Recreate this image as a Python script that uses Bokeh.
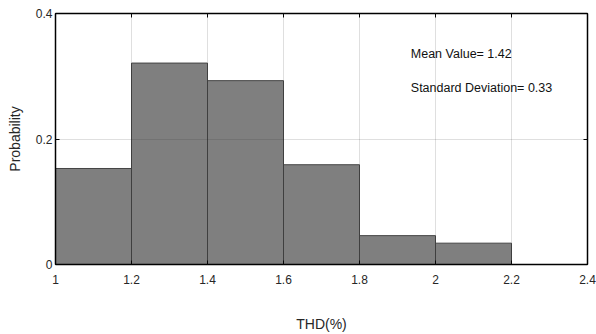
from bokeh.plotting import figure
from bokeh.models import LinearAxis, Range1d, FixedTicker, Label
from bokeh.embed import file_html
from bokeh.resources import INLINE

bin_left = [1.0, 1.2, 1.4, 1.6, 1.8, 2.0, 2.2]
bin_right = [1.2, 1.4, 1.6, 1.8, 2.0, 2.2, 2.4]
probability = [0.153, 0.321, 0.293, 0.159, 0.046, 0.034, 0.0]
x_ticks = [1, 1.2, 1.4, 1.6, 1.8, 2, 2.2, 2.4]
y_ticks = [0, 0.2, 0.4]
x_tick_labels = {1: "1", 1.2: "1.2", 1.4: "1.4", 1.6: "1.6", 1.8: "1.8", 2: "2", 2.2: "2.2", 2.4: "2.4"}
y_tick_labels = {0: "0", 0.2: "0.2", 0.4: "0.4"}
annotations = ["Mean Value= 1.42", "Standard Deviation= 0.33"]
annotation_x = [1.935, 1.935]
annotation_y = [0.336, 0.281]

FONT = "Liberation Sans"

p = figure(width=596, height=334, output_backend="svg", toolbar_location=None,
           x_range=Range1d(1, 2.4), y_range=Range1d(0, 0.4),
           min_border_left=55, min_border_right=9, min_border_top=13, min_border_bottom=70)
p.background_fill_color = "white"
p.border_fill_color = "white"
p.outline_line_color = "black"
p.outline_line_width = 1

p.quad(left=bin_left, right=bin_right, bottom=0, top=probability,
       fill_color="#7f7f7f", line_color="#444444", line_width=1)

for ax, ticks, labels in ((p.xaxis[0], x_ticks, x_tick_labels), (p.yaxis[0], y_ticks, y_tick_labels)):
    ax.ticker = FixedTicker(ticks=ticks)
    ax.major_label_overrides = labels
    ax.minor_tick_line_color = None
    ax.major_tick_in = 4
    ax.major_tick_out = 0
    ax.axis_line_color = "black"
    ax.axis_line_width = 1.5
    ax.major_tick_line_color = "black"
    ax.major_label_text_font = FONT
    ax.major_label_text_font_size = "12px"
    ax.major_label_text_color = "#262626"
    ax.axis_label_text_font = FONT
    ax.axis_label_text_font_size = "14px"
    ax.axis_label_text_font_style = "normal"
    ax.axis_label_text_color = "#262626"

p.xaxis[0].axis_label = "THD(%)"
p.xaxis[0].major_label_standoff = 10
p.xaxis[0].axis_label_standoff = 29
p.yaxis[0].axis_label = "Probability"
p.yaxis[0].major_label_standoff = 3
p.yaxis[0].axis_label_standoff = 10

blank_x = {t: "" for t in x_ticks}
blank_y = {t: "" for t in y_ticks}
top_ax = LinearAxis(ticker=FixedTicker(ticks=x_ticks), major_label_overrides=blank_x,
                    major_label_standoff=0, major_tick_in=4, major_tick_out=0,
                    minor_tick_line_color=None, axis_line_color="black", axis_line_width=1.5)
right_ax = LinearAxis(ticker=FixedTicker(ticks=y_ticks), major_label_overrides=blank_y,
                      major_label_standoff=0, major_tick_in=4, major_tick_out=0,
                      minor_tick_line_color=None, axis_line_color="black", axis_line_width=1.5)
p.add_layout(top_ax, "above")
p.add_layout(right_ax, "right")

p.xgrid.ticker = FixedTicker(ticks=x_ticks)
p.ygrid.ticker = FixedTicker(ticks=y_ticks)
for g in (p.xgrid[0], p.ygrid[0]):
    g.grid_line_color = "#262626"
    g.grid_line_alpha = 0.15
    g.grid_line_width = 1
    g.level = "overlay"

for t, ax_, ay_ in zip(annotations, annotation_x, annotation_y):
    p.add_layout(Label(x=ax_, y=ay_, text=t, text_font=FONT, text_font_size="12.5px",
                       text_color="#111111", text_baseline="middle", text_align="left"))

open("out.html", "w").write(file_html(p, INLINE))
